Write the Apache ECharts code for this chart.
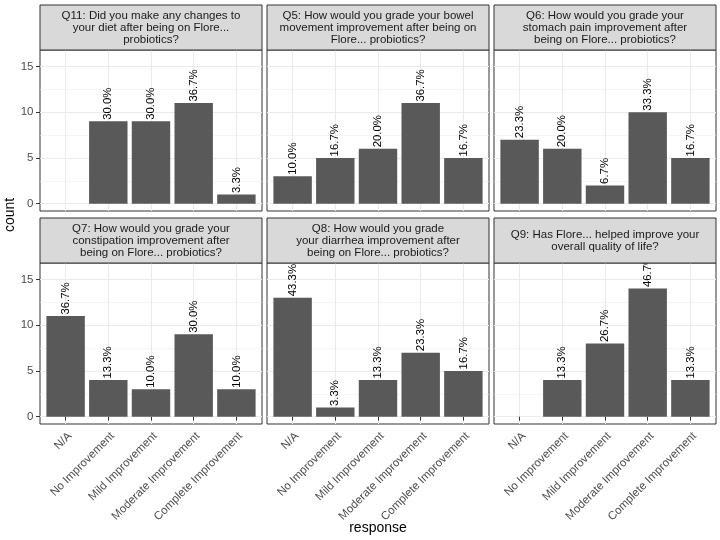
<!DOCTYPE html>
<html><head><meta charset="utf-8">
<script src="https://cdn.jsdelivr.net/npm/echarts@6.0.0/dist/echarts.min.js"></script>
<style>html,body{margin:0;padding:0;background:#fff}#c{width:720px;height:540px}</style>
</head><body><div id="c"></div>
<script>
// ---- data ----
const categories = ['N/A', 'No Improvement', 'Mild Improvement', 'Moderate Improvement', 'Complete Improvement'];
const panelTitles = [
  'Q11: Did you make any changes to\nyour diet after being on Flore...\nprobiotics?',
  'Q5: How would you grade your bowel\nmovement improvement after being on\nFlore... probiotics?',
  'Q6: How would you grade your\nstomach pain improvement after\nbeing on Flore... probiotics?',
  'Q7: How would you grade your\nconstipation improvement after\nbeing on Flore... probiotics?',
  'Q8: How would you grade\nyour diarrhea improvement after\nbeing on Flore... probiotics?',
  'Q9: Has Flore... helped improve your\noverall quality of life?'
];
const q11 = [null, 9, 9, 11, 1];
const q5 = [3, 5, 6, 11, 5];
const q6 = [7, 6, 2, 10, 5];
const q7 = [11, 4, 3, 9, 3];
const q8 = [13, 1, 4, 7, 5];
const q9 = [null, 4, 8, 14, 4];
const respondents = 30;
const yMajorTicks = [0, 5, 10, 15];
const yMinorTicks = [2.5, 7.5, 12.5];
const yMin = -0.8, yMax = 16.8;

const panelData = [q11, q5, q6, q7, q8, q9];

// ---- layout ----
const FONT = '"Liberation Sans", Arial, Helvetica, sans-serif';
const colLeft = [40, 267, 494];
const panelW = 222;
const stripTop = [5, 218];
const stripH = 45;
const plotH = 161;
const inset = panelW / 5.2 * 0.1;

const grid = [], xAxis = [], yAxis = [], series = [], graphic = [];

panelData.forEach((vals, i) => {
  const col = i % 3, row = Math.floor(i / 3);
  const L = colLeft[col];
  const T = stripTop[row] + stripH;
  grid.push({left: L, top: T, width: panelW, height: plotH, show: true,
    borderColor: '#333333', borderWidth: 1, backgroundColor: 'transparent'});
  grid.push({left: L + inset, top: T, width: panelW - 2 * inset, height: plotH});
  xAxis.push({gridIndex: 2 * i, type: 'value', show: false, min: 0, max: 1});
  xAxis.push({gridIndex: 2 * i + 1, type: 'category', data: categories,
    axisLine: {show: false},
    axisTick: {show: row === 1, alignWithLabel: true, length: 4, lineStyle: {color: '#333333'}},
    axisLabel: {show: row === 1, rotate: 45, interval: 0, fontSize: 11.5, color: '#4D4D4D', margin: 6,
      verticalAlign: 'top', fontFamily: FONT},
    splitLine: {show: true, alignWithLabel: true, lineStyle: {color: '#EBEBEB', width: 1}}
  });
  yAxis.push({gridIndex: 2 * i, type: 'value', min: yMin, max: yMax, position: 'left',
    axisLine: {show: false},
    axisTick: {show: col === 0, length: 4, customValues: yMajorTicks, lineStyle: {color: '#333333'}},
    axisLabel: {show: col === 0, customValues: yMajorTicks, color: '#4D4D4D', fontSize: 11.5, margin: 6.5, fontFamily: FONT},
    splitLine: {show: true, lineStyle: {color: '#EBEBEB', width: 1}}
  });
  yAxis.push({gridIndex: 2 * i, type: 'value', min: yMin, max: yMax, position: 'left',
    axisLine: {show: false},
    axisTick: {show: false, customValues: yMinorTicks},
    axisLabel: {show: false},
    splitLine: {show: true, lineStyle: {color: '#EFEFEF', width: 0.6}}
  });
  yAxis.push({gridIndex: 2 * i + 1, type: 'value', min: yMin, max: yMax, show: false});
  series.push({
    type: 'bar', xAxisIndex: 2 * i + 1, yAxisIndex: 3 * i + 2, data: vals,
    barCategoryGap: '10%', itemStyle: {color: '#595959'},
    label: {show: true, position: 'top', rotate: 90, align: 'left', verticalAlign: 'middle',
      distance: 1.5, fontSize: 11.4, color: '#000000', fontFamily: FONT,
      formatter: p => (p.value / respondents * 100).toFixed(1) + '%'}
  });
  graphic.push({type: 'rect', z: 100, shape: {x: L, y: stripTop[row], width: panelW, height: stripH},
    style: {fill: '#D9D9D9', stroke: '#333333', lineWidth: 1}});
  graphic.push({type: 'text', z: 101, x: L + panelW / 2, y: stripTop[row] + stripH / 2,
    style: {text: panelTitles[i], align: 'center', verticalAlign: 'middle', fontSize: 11.5,
      lineHeight: 12, fontFamily: FONT, fill: '#1A1A1A'}});
});

graphic.push({type: 'text', z: 101, x: 10, y: 215, rotation: Math.PI / 2,
  style: {text: 'count', align: 'center', verticalAlign: 'middle', fontSize: 14, fontFamily: FONT, fill: '#000'}});
graphic.push({type: 'text', z: 101, x: 378, y: 528,
  style: {text: 'response', align: 'center', verticalAlign: 'middle', fontSize: 14, fontFamily: FONT, fill: '#000'}});

const chart = echarts.init(document.getElementById('c'), null, {renderer: 'canvas'});
chart.setOption({
  animation: false,
  textStyle: {fontFamily: FONT},
  grid, xAxis, yAxis, series, graphic
});
</script>
</body></html>
